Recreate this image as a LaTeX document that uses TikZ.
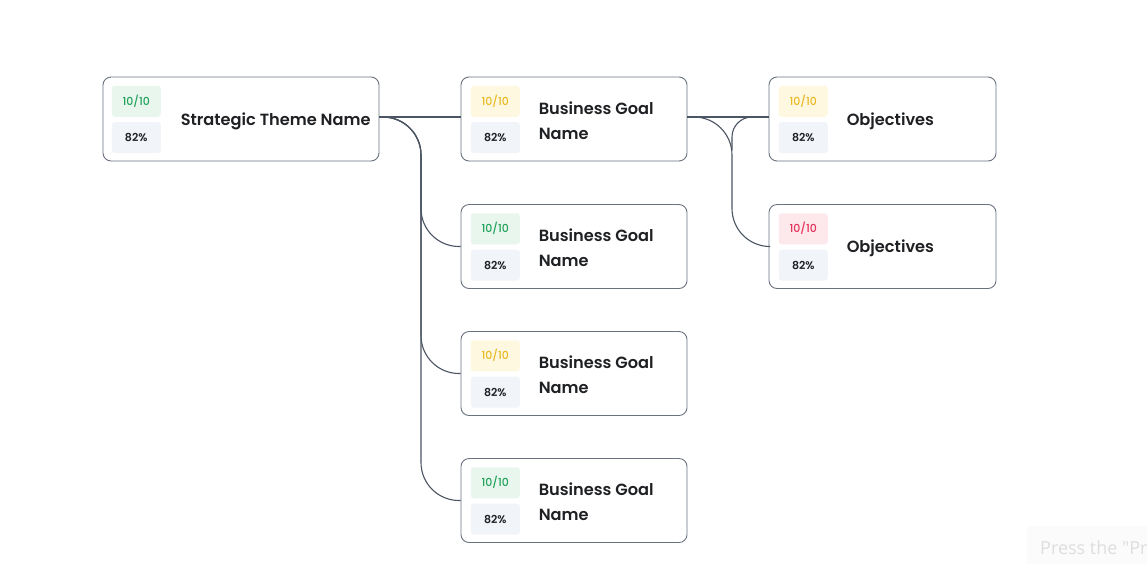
\documentclass[tikz,border=0pt]{standalone}
\usepackage{fontspec}
\setmainfont{Poppins}[BoldFont={Poppins SemiBold}]
\newfontfamily\badgefont{Poppins Medium}
\newfontfamily\uifont{Open Sans}
\usetikzlibrary{positioning}

\definecolor{boxline}{HTML}{6B7280}
\definecolor{linkline}{HTML}{4B5563}
\definecolor{inkdark}{HTML}{1F2023}
\definecolor{goodbg}{HTML}{E8F6EE}
\definecolor{goodtx}{HTML}{22A35A}
\definecolor{warnbg}{HTML}{FFF8E1}
\definecolor{warntx}{HTML}{E8B923}
\definecolor{badbg}{HTML}{FDE8EC}
\definecolor{badtx}{HTML}{E3325A}
\definecolor{pctbg}{HTML}{F1F4F9}

\begin{document}
\begin{tikzpicture}[x=1pt,y=-1pt,
	card node/.style={draw=boxline,line width=0.9pt,rounded corners=8pt,fill=white,minimum height=84pt,inner sep=0pt},
	theme node/.style={card node,minimum width=276pt},
	goal node/.style={card node,minimum width=226pt},
	obj node/.style={card node,minimum width=227pt},
	badge/.style={rounded corners=3pt,minimum width=49pt,minimum height=31pt,inner sep=0pt,font=\badgefont\fontsize{11}{12}\selectfont},
	good badge/.style={badge,fill=goodbg,text=goodtx},
	warn badge/.style={badge,fill=warnbg,text=warntx},
	bad badge/.style={badge,fill=badbg,text=badtx},
	pct badge/.style={badge,fill=pctbg,text=inkdark,font=\fontsize{11}{12}\selectfont\bfseries},
	title text/.style={anchor=west,align=left,text=inkdark,inner sep=0pt,font=\fontsize{16.2}{25}\selectfont\bfseries},
	link/.style={draw=linkline,line width=1.1pt}
]
	\useasboundingbox[fill=white] (0,0) rectangle (1147,563);

	% cards
	\node[theme node] (T) at (241,119) {};
	\node[goal node] (G1) at (574,119) {};
	\node[goal node] (G2) at (574,246.5) {};
	\node[goal node] (G3) at (574,373.5) {};
	\node[goal node] (G4) at (574,500.5) {};
	\node[obj node] (O1) at (882.5,119) {};
	\node[obj node] (O2) at (882.5,246.5) {};

	% badges
	\node[good badge, below right=9pt and 9pt of T.north west] (Ts) {10/10};
	\node[pct badge, below=5pt of Ts] (Tp) {82\%};
	\node[warn badge, below right=9pt and 10pt of G1.north west] (G1s) {10/10};
	\node[pct badge, below=5pt of G1s] (G1p) {82\%};
	\node[good badge, below right=9pt and 10pt of G2.north west] (G2s) {10/10};
	\node[pct badge, below=5pt of G2s] (G2p) {82\%};
	\node[warn badge, below right=9pt and 10pt of G3.north west] (G3s) {10/10};
	\node[pct badge, below=5pt of G3s] (G3p) {82\%};
	\node[good badge, below right=9pt and 10pt of G4.north west] (G4s) {10/10};
	\node[pct badge, below=5pt of G4s] (G4p) {82\%};
	\node[warn badge, below right=9pt and 10pt of O1.north west] (O1s) {10/10};
	\node[pct badge, below=5pt of O1s] (O1p) {82\%};
	\node[bad badge, below right=9pt and 10pt of O2.north west] (O2s) {10/10};
	\node[pct badge, below=5pt of O2s] (O2p) {82\%};

	% titles
	\node[title text] (Tt) at ([xshift=78pt,yshift=-2pt]T.west) {Strategic Theme Name};
	\node[title text] (G1t) at ([xshift=78pt,yshift=-1.5pt]G1.west) {Business Goal\\Name};
	\node[title text] (G2t) at ([xshift=78pt,yshift=-1.5pt]G2.west) {Business Goal\\Name};
	\node[title text] (G3t) at ([xshift=78pt,yshift=-1.5pt]G3.west) {Business Goal\\Name};
	\node[title text] (G4t) at ([xshift=78pt,yshift=-1.5pt]G4.west) {Business Goal\\Name};
	\node[title text] (O1t) at ([xshift=78pt,yshift=-2pt]O1.west) {Objectives};
	\node[title text] (O2t) at ([xshift=78pt,yshift=-2pt]O2.west) {Objectives};

	% theme to goals
	\coordinate (Tout) at ([yshift=2pt]T.east);
	\draw[link] (Tout) -- ([yshift=2pt]G1.west);
	\draw[link,rounded corners=38pt] (Tout) -- (421,117) -- (421,246.5) -- (G2.west);
	\draw[link,rounded corners=38pt] (Tout) -- (421,117) -- (421,373.5) -- (G3.west);
	\draw[link,rounded corners=38pt] (Tout) -- (421,117) -- (421,500.5) -- (G4.west);

	% goal to objectives
	\coordinate (Gout) at ([yshift=2pt]G1.east);
	\coordinate (Oin) at ([yshift=2pt]O1.west);
	\draw[link] (Gout) -- (Oin);
	\draw[link,rounded corners=38pt] (Gout) -- (732,117) -- (732,246.5) -- (O2.west);
	\draw[link,rounded corners=20pt] (Oin) -- (732,117) -- (732,150);

	% screen hint
	\fill[fill=black!1.5,rounded corners=4pt] (1027,526) rectangle (1170,580);
	\node[anchor=west,inner sep=0pt,text=black!13,font=\uifont\fontsize{18}{18}\selectfont] (hint) at (1040,548) {Press the "Pr};
\end{tikzpicture}
\end{document}
